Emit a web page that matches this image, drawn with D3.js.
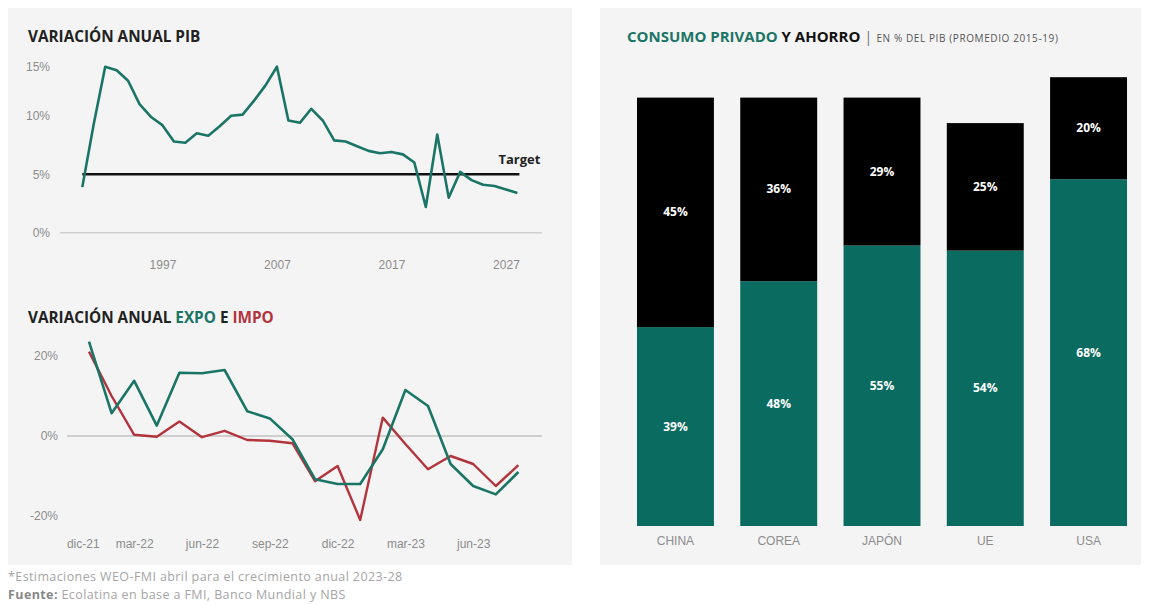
<!DOCTYPE html>
<html>
<head>
<meta charset="utf-8">
<script src="https://cdn.jsdelivr.net/npm/d3@7"></script>
<style>
  body { margin: 0; background: #fff; }
  svg { display: block; font-family: "Open Sans", sans-serif; }
  .axis text { fill: #8c8c8c; font-size: 12px; }
  .axis path, .axis line { display: none; }
</style>
</head>
<body>
<svg width="1149" height="605"></svg>
<script>
// PIB (variación anual, %)
var years = [1990, 1991, 1992, 1993, 1994, 1995, 1996, 1997, 1998, 1999, 2000, 2001, 2002,
  2003, 2004, 2005, 2006, 2007, 2008, 2009, 2010, 2011, 2012, 2013, 2014, 2015, 2016,
  2017, 2018, 2019, 2020, 2021, 2022, 2023, 2024, 2025, 2026, 2027, 2028];
var pib = [3.9, 9.3, 14.2, 13.9, 13.0, 11.0, 9.9, 9.2, 7.8, 7.7, 8.5, 8.3, 9.1,
  10.0, 10.1, 11.3, 12.6, 14.2, 9.6, 9.4, 10.6, 9.6, 7.9, 7.8, 7.4, 7.0, 6.8,
  6.9, 6.7, 6.0, 2.2, 8.4, 3.0, 5.2, 4.5, 4.1, 4.0, 3.7, 3.4];
var pibTarget = 5;
var pibTicks = [1997, 2007, 2017, 2027];

// Expo / Impo (variación anual, %)
var months = ["dic-21", "ene-22", "feb-22", "mar-22", "abr-22", "may-22", "jun-22", "jul-22",
  "ago-22", "sep-22", "oct-22", "nov-22", "dic-22", "ene-23", "feb-23", "mar-23", "abr-23",
  "may-23", "jun-23", "jul-23", "ago-23"];
var expo = [null, 23.6, 5.7, 13.8, 2.6, 15.8, 15.7, 16.5, 6.2, 4.4, -0.8, -10.8, -12, -12,
  -3.3, 11.5, 7.5, -7, -12.5, -14.6, -9];
var impo = [null, 21.1, 10, 0.3, -0.2, 3.6, -0.3, 1.3, -1, -1.2, -1.8, -11.3, -7.5, -21,
  4.6, -2, -8.3, -5, -7, -12.5, -7.3];
var monthTicks = ["dic-21", "mar-22", "jun-22", "sep-22", "dic-22", "mar-23", "jun-23"];

// Consumo privado y ahorro (% del PIB)
var countries = ["CHINA", "COREA", "JAPÓN", "UE", "USA"];
var consumo = [39, 48, 55, 54, 68];
var ahorro = [45, 36, 29, 25, 20];

var teal = "#1b7567";
var barTeal = "#0a6b61";
var red = "#b2343c";

var svg = d3.select("svg");

// panels
svg.append("rect").attr("x", 8).attr("y", 8).attr("width", 564).attr("height", 557).attr("fill", "#f4f4f4");
svg.append("rect").attr("x", 600).attr("y", 8).attr("width", 541).attr("height", 557).attr("fill", "#f4f4f4");

// ---------- PIB ----------
var x1 = d3.scaleLinear().domain([1990, 2028]).range([82.3, 517.4]);
var y1 = d3.scaleLinear().domain([0, 14.2]).range([232.7, 66.7]).clamp(true);

svg.append("text").attr("x", 28).attr("y", 42)
  .attr("font-size", 15.3).attr("font-weight", 700).attr("fill", "#222")
  .text("VARIACIÓN ANUAL PIB");

svg.append("line").attr("x1", 60).attr("x2", 542).attr("y1", y1(0)).attr("y2", y1(0))
  .attr("stroke", "#cfcfcf").attr("stroke-width", 1.5);

svg.append("g").attr("class", "axis").attr("transform", "translate(50,0)")
  .call(d3.axisLeft(y1).tickValues([0, 5, 10, 15]).tickSize(0).tickPadding(0)
    .tickFormat(function(d) { return d + "%"; }));

svg.append("g").attr("class", "axis").attr("transform", "translate(0,257)")
  .call(d3.axisBottom(x1).tickValues(pibTicks).tickSize(0).tickFormat(d3.format("d")));

svg.append("line").attr("x1", x1(1990)).attr("x2", x1(2028) + 2)
  .attr("y1", y1(pibTarget)).attr("y2", y1(pibTarget))
  .attr("stroke", "#111").attr("stroke-width", 2.6);
svg.append("text").attr("x", x1(2028) + 2).attr("y", y1(pibTarget) - 10)
  .attr("text-anchor", "middle").attr("font-size", 13).attr("font-weight", 700).attr("fill", "#222")
  .text("Target");

var line1 = d3.line().x(function(d, i) { return x1(years[i]); }).y(function(d) { return y1(d); });
svg.append("path").datum(pib).attr("d", line1).attr("fill", "none")
  .attr("stroke", teal).attr("stroke-width", 2.6).attr("stroke-linejoin", "round");

// ---------- EXPO / IMPO ----------
var x2 = d3.scalePoint().domain(months).range([66.4, 518.4]);
var y2 = d3.scaleLinear().domain([-20, 20]).range([516, 356]);

var t2 = svg.append("text").attr("x", 28).attr("y", 323)
  .attr("font-size", 15.3).attr("font-weight", 700).attr("fill", "#222");
t2.append("tspan").text("VARIACIÓN ANUAL ");
t2.append("tspan").attr("fill", teal).text("EXPO");
t2.append("tspan").text(" E ");
t2.append("tspan").attr("fill", red).text("IMPO");

svg.append("line").attr("x1", 67).attr("x2", 542).attr("y1", y2(0)).attr("y2", y2(0))
  .attr("stroke", "#a8a8a8").attr("stroke-width", 1);

svg.append("g").attr("class", "axis").attr("transform", "translate(58,0)")
  .call(d3.axisLeft(y2).tickValues([-20, 0, 20]).tickSize(0).tickPadding(0)
    .tickFormat(function(d) { return d + "%"; }));

var ax2 = svg.append("g").attr("class", "axis").attr("transform", "translate(0,536)")
  .call(d3.axisBottom(x2).tickValues(monthTicks).tickSize(0));
ax2.selectAll(".tick").filter(function(d) { return d === "dic-21"; })
  .select("text").attr("text-anchor", "start");

var line2 = d3.line().defined(function(d) { return d != null; })
  .x(function(d, i) { return x2(months[i]); }).y(function(d) { return y2(d); });
svg.append("path").datum(impo).attr("d", line2).attr("fill", "none")
  .attr("stroke", red).attr("stroke-width", 2.4).attr("stroke-linejoin", "round");
svg.append("path").datum(expo).attr("d", line2).attr("fill", "none")
  .attr("stroke", teal).attr("stroke-width", 2.6).attr("stroke-linejoin", "round");

// ---------- CONSUMO Y AHORRO ----------
var t3 = svg.append("text").attr("x", 627).attr("y", 42).attr("font-weight", 700).attr("font-size", 15);
t3.append("tspan").attr("fill", teal).text("CONSUMO PRIVADO");
t3.append("tspan").attr("fill", "#111").text(" Y AHORRO");
t3.append("tspan").attr("fill", "#777").attr("font-weight", 400).text(" | ");
t3.append("tspan").attr("fill", "#555").attr("font-weight", 400).attr("font-size", 10)
  .attr("letter-spacing", 0.6)
  .text("EN % DEL PIB (PROMEDIO 2015-19)");

var x3 = d3.scaleBand().domain(countries).range([622, 1142]).paddingInner(0.255).paddingOuter(0.145);
var y3 = d3.scaleLinear().domain([0, 100]).range([526, 16]);

var rows = countries.map(function(c, i) { return { pais: c, consumo: consumo[i], ahorro: ahorro[i] }; });
var stacked = d3.stack().keys(["consumo", "ahorro"])(rows);
var fills = { consumo: barTeal, ahorro: "#000" };

stacked.forEach(function(layer) {
  var g = svg.append("g");
  g.selectAll("rect").data(layer).enter().append("rect")
    .attr("x", function(d) { return x3(d.data.pais); })
    .attr("width", x3.bandwidth())
    .attr("y", function(d) { return y3(d[1]); })
    .attr("height", function(d) { return y3(d[0]) - y3(d[1]); })
    .attr("fill", fills[layer.key]);
  g.selectAll("text").data(layer).enter().append("text")
    .attr("x", function(d) { return x3(d.data.pais) + x3.bandwidth() / 2; })
    .attr("y", function(d) { return (y3(d[0]) + y3(d[1])) / 2 + 4; })
    .attr("text-anchor", "middle").attr("font-size", 12).attr("font-weight", 700).attr("fill", "#fff")
    .text(function(d) { return d.data[layer.key] + "%"; });
});

var ax3 = svg.append("g").attr("class", "axis").attr("transform", "translate(0,533)")
  .call(d3.axisBottom(x3).tickSize(0));
ax3.selectAll("text").attr("font-size", 12.5).attr("fill", "#444");

// ---------- notas ----------
svg.append("text").attr("x", 8).attr("y", 581).attr("font-size", 12.5).attr("letter-spacing", 0.4)
  .attr("fill", "#a5a5a5")
  .text("*Estimaciones WEO-FMI abril para el crecimiento anual 2023-28");
var f = svg.append("text").attr("x", 8).attr("y", 599).attr("font-size", 12.5).attr("letter-spacing", 0.4)
  .attr("fill", "#a5a5a5");
f.append("tspan").attr("font-weight", 700).attr("fill", "#888").text("Fuente:");
f.append("tspan").text(" Ecolatina en base a FMI, Banco Mundial y NBS");
</script>
</body>
</html>
